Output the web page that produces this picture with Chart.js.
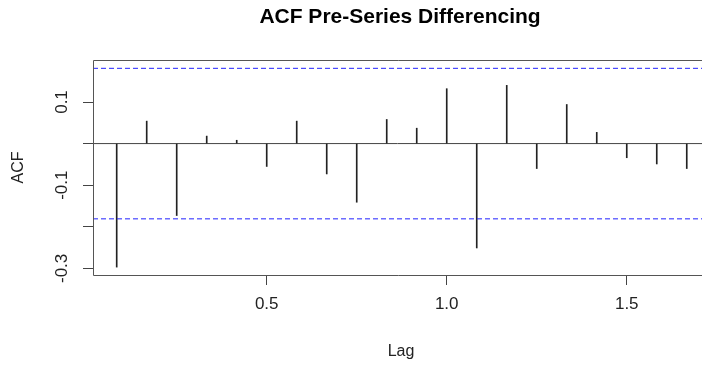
<!DOCTYPE html>
<html>
<head>
<meta charset="utf-8">
<script src="https://cdn.jsdelivr.net/npm/chart.js@4.4.1/dist/chart.umd.min.js"></script>
<style>
  html, body { margin: 0; padding: 0; background: #fff; overflow: hidden; }
  #wrap { width: 702px; height: 367px; }
</style>
</head>
<body>
<div id="wrap"><canvas id="acf"></canvas></div>
<script>
// ACF plot (R style) - monthly series, lags in years

// Data
const LAG_MONTHS = [1, 2, 3, 4, 5, 6, 7, 8, 9, 10, 11, 12, 13, 14, 15, 16, 17, 18, 19, 20];
const FREQ = 12;
const ACF_VALUES = [-0.297, 0.054, -0.173, 0.018, 0.008, -0.055, 0.054, -0.073, -0.141, 0.058,
                    0.037, 0.132, -0.251, 0.140, -0.060, 0.094, 0.027, -0.034, -0.049, -0.060];
const CONF_LIMIT = 0.181;           // 1.96 / sqrt(n)
const X_TICKS = [0.5, 1.0, 1.5];
const Y_TICKS = [-0.3, -0.2, -0.1, 0, 0.1];
const Y_LABELED = [0.1, -0.1, -0.3];
const X_LIMITS = [0.0175, 1.709];
const Y_LIMITS = [-0.316, 0.201];

const TITLE = 'ACF Pre-Series Differencing';
const X_TITLE = 'Lag';
const Y_TITLE = 'ACF';

const FONT = '"Liberation Sans", Arial, sans-serif';

const lags = LAG_MONTHS.map(m => m / FREQ);
const spikes = lags.map((x, i) => ({ x: x, y: ACF_VALUES[i] }));
const hline = v => [{ x: X_LIMITS[0], y: v }, { x: X_LIMITS[1], y: v }];

// Draws the R-like frame, title, axis titles and rotated y labels
const rFrame = {
    id: 'rFrame',
    afterDraw(chart) {
        const { ctx, chartArea: a, scales } = chart;
        ctx.save();

        // box (right edge is off-canvas in the original)
        ctx.strokeStyle = '#555';
        ctx.lineWidth = 1;
        ctx.beginPath();
        ctx.moveTo(a.right + 2, a.top + 0.5);
        ctx.lineTo(a.left + 0.5, a.top + 0.5);
        ctx.lineTo(a.left + 0.5, a.bottom + 0.5);
        ctx.lineTo(a.right + 2, a.bottom + 0.5);
        ctx.stroke();

        // title
        ctx.fillStyle = '#000';
        ctx.textAlign = 'center';
        ctx.textBaseline = 'middle';
        ctx.font = 'bold 21px ' + FONT;
        ctx.fillText(TITLE, 400, 17);

        // x title
        ctx.font = '16px ' + FONT;
        ctx.fillStyle = '#222';
        ctx.fillText(X_TITLE, 401, 352);

        // y title (rotated)
        ctx.save();
        ctx.translate(19, (a.top + a.bottom) / 2);
        ctx.rotate(-Math.PI / 2);
        ctx.fillText(Y_TITLE, 0, 0);
        ctx.restore();

        // y tick labels (rotated, like R las=0)
        ctx.font = '17px ' + FONT;
        Y_LABELED.forEach(v => {
            const py = scales.y.getPixelForValue(v);
            ctx.save();
            ctx.translate(62, py);
            ctx.rotate(-Math.PI / 2);
            ctx.fillText(v.toFixed(1), 0, 0);
            ctx.restore();
        });

        ctx.restore();
    }
};

new Chart(document.getElementById('acf'), {
    type: 'bar',
    data: {
        datasets: [
            {
                type: 'line',
                data: hline(0),
                borderColor: '#444',
                borderWidth: 1,
                pointRadius: 0,
                order: 3
            },
            {
                type: 'bar',
                data: spikes,
                backgroundColor: '#222',
                borderWidth: 0,
                barThickness: 1,
                order: 2
            },
            {
                type: 'line',
                data: hline(CONF_LIMIT),
                borderColor: '#2020ff',
                borderWidth: 1,
                borderDash: [5, 3],
                pointRadius: 0,
                order: 1
            },
            {
                type: 'line',
                data: hline(-CONF_LIMIT),
                borderColor: '#2020ff',
                borderWidth: 1,
                borderDash: [5, 3],
                pointRadius: 0,
                order: 1
            }
        ]
    },
    options: {
        responsive: true,
        maintainAspectRatio: false,
        animation: false,
        layout: { padding: { top: 60, left: 0, right: 0, bottom: 0 } },
        plugins: {
            legend: { display: false },
            title: { display: false },
            tooltip: { enabled: false }
        },
        scales: {
            x: {
                type: 'linear',
                offset: false,
                min: X_LIMITS[0],
                max: X_LIMITS[1],
                afterBuildTicks: s => { s.ticks = X_TICKS.map(v => ({ value: v })); },
                afterFit: s => { s.height = 92; },
                border: { display: false },
                grid: { offset: false, drawOnChartArea: false, drawTicks: true, tickLength: 10, color: '#444', lineWidth: 1 },
                ticks: {
                    padding: 9,
                    color: '#222',
                    font: { family: FONT, size: 17 },
                    maxRotation: 0,
                    callback: v => Number(v).toFixed(1)
                }
            },
            y: {
                min: Y_LIMITS[0],
                max: Y_LIMITS[1],
                afterBuildTicks: s => { s.ticks = Y_TICKS.map(v => ({ value: v })); },
                afterFit: s => { s.width = 93; },
                border: { display: false },
                grid: { drawOnChartArea: false, drawTicks: true, tickLength: 10, color: '#444', lineWidth: 1 },
                ticks: { display: false }
            }
        }
    },
    plugins: [rFrame]
});
</script>
</body>
</html>
